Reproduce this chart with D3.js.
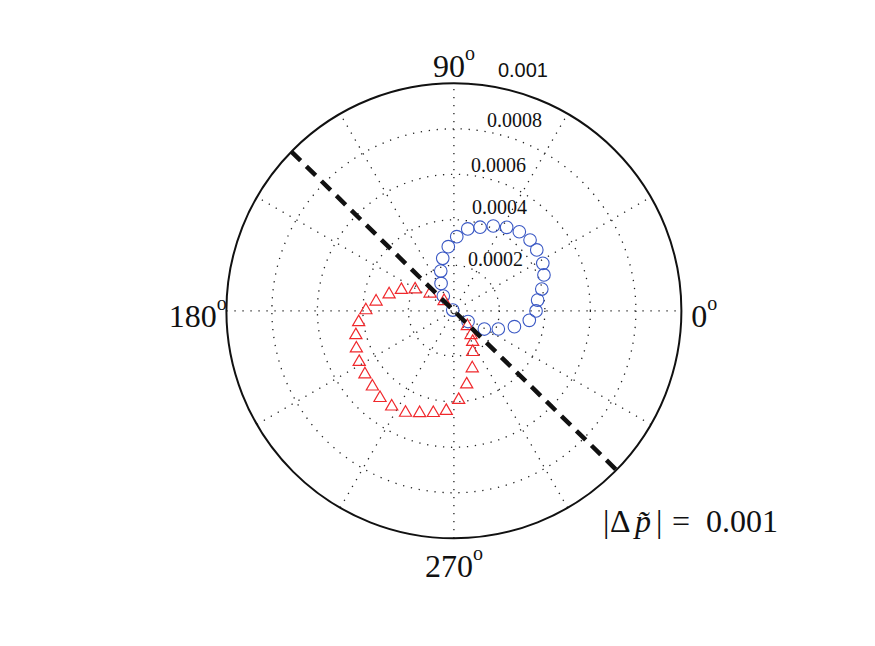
<!DOCTYPE html>
<html>
<head>
<meta charset="utf-8">
<script src="https://cdn.jsdelivr.net/npm/d3@7"></script>
<style>
  html, body { margin: 0; padding: 0; background: #fff; }
  svg { display: block; }
</style>
</head>
<body>
<svg id="plot"></svg>
<script>
// Blue circles: angle (deg) and radius |dp|
const blueTheta = [146, 322.8, 329.1, 337.7, 345.3, 352.8, 359.9, 7.3, 13.9, 21.7, 28.1, 36.3,
    42.9, 50.4, 57.7, 65.1, 72.6, 80.4, 87.8, 95.0, 102.0, 108.3, 115.1, 125.6];
const blueR = [0.000006, 0.000078, 0.000156, 0.000211, 0.000275, 0.000334, 0.000361, 0.000371,
    0.000398, 0.000426, 0.000443, 0.000452, 0.000457, 0.000451, 0.000434, 0.000411, 0.000385,
    0.000365, 0.000326, 0.000283, 0.000236, 0.000184, 0.000133, 0.000080];

// Red triangles: angle (deg) and radius |dp|
const redTheta = [164.9, 157.4, 150.0, 142.6, 132.5, 313.3, 306.4, 301.9, 295.1, 288.0, 280.0,
    273.1, 265.6, 258.5, 251.3, 244.4, 236.7, 229.4, 222.5, 215.1, 207.9, 200.6, 193.4, 186.2,
    179.0, 172.5];
const redR = [0.000295, 0.000250, 0.000197, 0.000132, 0.000064, 0.000086, 0.000127, 0.000156,
    0.000195, 0.000261, 0.000324, 0.000388, 0.000437, 0.000454, 0.000470, 0.000492, 0.000498,
    0.000499, 0.000486, 0.000478, 0.000471, 0.000458, 0.000443, 0.000421, 0.000387, 0.000345];

// Dashed reference direction and radius limit
const dashAngle = 135.6;
const rMax = 0.001;

// Grid
const ringTicks = [0.0002, 0.0004, 0.0006, 0.0008];
const ringLabels = ["0.0002", "0.0004", "0.0006", "0.0008", "0.001"];
const spokeAngles = [0, 30, 60, 90, 120, 150];
const angleLabels = [0, 90, 180, 270];

const width = 875, height = 646;
const cx = 453.9, cy = 310.8;

const svg = d3.select("#plot").attr("width", width).attr("height", height);
svg.append("rect").attr("width", width).attr("height", height).attr("fill", "#fff");

const rScale = d3.scaleLinear().domain([0, rMax]).range([0, 227.5]);
const rad = (deg) => (deg * Math.PI) / 180;
const px = (th, r) => cx + rScale(r) * Math.cos(rad(th));
const py = (th, r) => cy - rScale(r) * Math.sin(rad(th));

const serif = "Liberation Serif, Times New Roman, serif";
const g = svg.append("g");

// dotted rings
g.selectAll("circle.ring")
    .data(ringTicks)
    .enter()
    .append("circle")
    .attr("class", "ring")
    .attr("cx", cx)
    .attr("cy", cy)
    .attr("r", (d) => rScale(d))
    .attr("fill", "none")
    .attr("stroke", "#222")
    .attr("stroke-width", 1.3)
    .attr("stroke-dasharray", "1.3 6.7");

// dotted spokes, full diameters
g.selectAll("line.spoke")
    .data(spokeAngles)
    .enter()
    .append("line")
    .attr("class", "spoke")
    .attr("x1", (d) => px(d + 180, rMax))
    .attr("y1", (d) => py(d + 180, rMax))
    .attr("x2", (d) => px(d, rMax))
    .attr("y2", (d) => py(d, rMax))
    .attr("stroke", "#222")
    .attr("stroke-width", 1.3)
    .attr("stroke-dasharray", "1.3 6.7");

// outer circle
g.append("circle")
    .attr("cx", cx)
    .attr("cy", cy)
    .attr("r", rScale(rMax))
    .attr("fill", "none")
    .attr("stroke", "#111")
    .attr("stroke-width", 2);

// radial tick labels (nudged by hand like the original figure)
const labelDx = [14, 18, 17, 33, 44];
const labelDy = [1, -6, -2, -2, -6];
g.selectAll("text.rlab")
    .data(ringLabels)
    .enter()
    .append("text")
    .attr("class", "rlab")
    .attr("x", (d, i) => cx + labelDx[i])
    .attr("y", (d, i) => py(90, +d) + labelDy[i])
    .attr("font-family", (d) => (+d === rMax ? "Liberation Sans, Arial, sans-serif" : serif))
    .attr("font-size", "20px")
    .attr("fill", "#111")
    .text((d) => d);

// angle labels with degree mark
const aLab = g.selectAll("text.alab")
    .data(angleLabels)
    .enter()
    .append("text")
    .attr("class", "alab")
    .attr("x", (d) => px(d, rMax * 1.1) + (d === 180 ? -6 : 0))
    .attr("y", (d) => py(d, rMax * 1.1) + 16)
    .attr("text-anchor", "middle")
    .attr("font-family", serif)
    .attr("font-size", "32px")
    .attr("fill", "#111");
aLab.append("tspan").text((d) => d);
aLab.append("tspan").attr("font-size", "20px").attr("dy", -17).text("o");

// blue circles
g.selectAll("circle.blue")
    .data(blueTheta)
    .enter()
    .append("circle")
    .attr("class", "blue")
    .attr("cx", (d, i) => px(d, blueR[i]))
    .attr("cy", (d, i) => py(d, blueR[i]))
    .attr("r", 6.3)
    .attr("fill", "none")
    .attr("stroke", "#3a58c4")
    .attr("stroke-width", 1.1);

// red triangles
const tri = d3.symbol().type(d3.symbolTriangle).size(64);
g.selectAll("path.red")
    .data(redTheta)
    .enter()
    .append("path")
    .attr("class", "red")
    .attr("d", tri)
    .attr("transform", (d, i) => "translate(" + px(d, redR[i]) + "," + (py(d, redR[i]) + 1) + ")")
    .attr("fill", "none")
    .attr("stroke", "#f0282c")
    .attr("stroke-width", 1.2);

// dashed diameter
g.append("line")
    .attr("x1", px(dashAngle, rMax))
    .attr("y1", py(dashAngle, rMax))
    .attr("x2", px(dashAngle + 180, rMax))
    .attr("y2", py(dashAngle + 180, rMax))
    .attr("stroke", "#111")
    .attr("stroke-width", 4.5)
    .attr("stroke-dasharray", "13 8");

// |Δp~| = 0.001 annotation
const ann = svg.append("text")
    .attr("y", 532)
    .attr("font-family", serif)
    .attr("font-size", "32px")
    .attr("fill", "#111");
ann.append("tspan").attr("x", 603).text("|");
ann.append("tspan").attr("x", 610).text("Δ");
ann.append("tspan").attr("x", 635).attr("font-style", "italic").text("p\u0303");
ann.append("tspan").attr("x", 656).text("|");
ann.append("tspan").attr("x", 672).text("=");
ann.append("tspan").attr("x", 706).text("0.001");
</script>
</body>
</html>
